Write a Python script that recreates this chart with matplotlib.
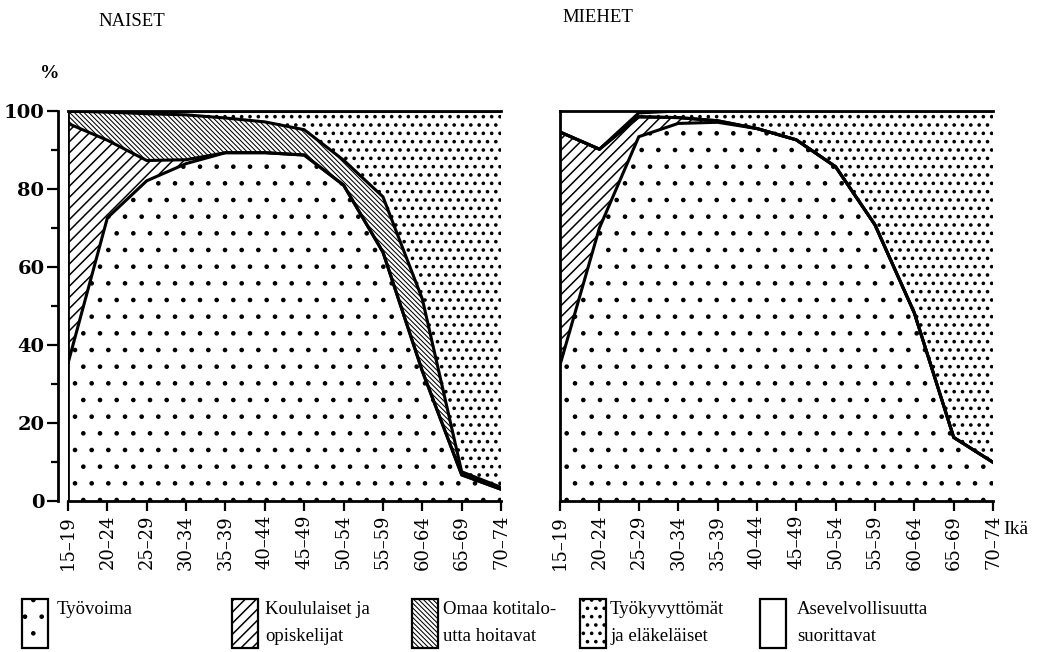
import numpy as np
import matplotlib.pyplot as plt
from matplotlib.patches import Rectangle

plt.rcParams['font.family'] = ['Liberation Serif', 'DejaVu Serif']
plt.rcParams['hatch.color'] = 'black'

ages = ['15–19', '20–24', '25–29', '30–34', '35–39', '40–44',
        '45–49', '50–54', '55–59', '60–64', '65–69', '70–74']

# NAISET (%)
women_labour = [35.3, 72.6, 82.1, 86.5, 89.3, 89.3, 88.7, 81.0, 63.8, 33.3, 6.7, 3.0]
women_students = [61.5, 19.9, 5.2, 1.0, 0, 0, 0, 0, 0, 0, 0, 0]
women_home = [3.2, 7.2, 12.0, 11.5, 8.9, 7.9, 6.5, 6.4, 14.2, 18.5, 0.8, 0.5]
women_disabled = [0, 0.3, 0.7, 1.0, 1.8, 2.8, 4.8, 12.6, 22.0, 48.2, 92.5, 96.5]

# MIEHET (%)
men_labour = [34.9, 70.0, 93.4, 96.8, 97.1, 95.5, 92.6, 85.7, 70.8, 48.2, 16.3, 9.9]
men_students = [59.7, 20.2, 5.1, 1.5, 0.4, 0, 0, 0, 0, 0, 0, 0]
men_home = [0, 0, 0, 0, 0, 0, 0, 0, 0, 0, 0, 0]
men_disabled = [0, 0, 1.0, 1.7, 2.5, 4.5, 7.4, 14.3, 29.2, 51.8, 83.7, 90.1]
men_military = [5.4, 9.8, 0.5, 0, 0, 0, 0, 0, 0, 0, 0, 0]

# hatch, hatch linewidth
styles = [('.', 0.9), ('///', 1.1), ('\\' * 7, 0.75), ('..', 1.4), ('', 1.0)]
legend_labels = ['Työvoima', 'Koululaiset ja\nopiskelijat', 'Omaa kotitalo-\nutta hoitavat',
                 'Työkyvyttömät\nja eläkeläiset', 'Asevelvollisuutta\nsuorittavat']
tick_font = ['DejaVu Serif']


def draw_panel(ax, layers):
    x = np.arange(len(ages))
    bottom = np.zeros(len(ages))
    tops = []
    for vals, (hatch, hlw) in zip(layers, styles):
        top = bottom + np.array(vals)
        with plt.rc_context({'hatch.linewidth': hlw}):
            coll = ax.fill_between(x, bottom, top, facecolor='white', edgecolor='none',
                                   hatch=hatch, linewidth=0)
        if hasattr(coll, 'set_hatch_linewidth'):
            coll.set_hatch_linewidth(hlw)
        tops.append(top)
        bottom = top
    for top in tops[:-1]:
        ax.plot(x, top, color='black', lw=2.2, solid_joinstyle='miter')
    ax.set_xlim(0, len(ages) - 1)
    ax.set_ylim(0, 100)
    ax.set_xticks(x)
    ax.set_xticklabels(ages, rotation=90, fontsize=13, family=tick_font)
    ax.tick_params(axis='x', length=7, width=1.6, direction='out', pad=3)
    ax.spines['right'].set_visible(False)
    for s in ['left', 'bottom', 'top']:
        ax.spines[s].set_linewidth(2.0)


fig = plt.figure(figsize=(10.48, 6.52), dpi=100)
ax1 = fig.add_axes([0.0649, 0.2316, 0.4132, 0.5982])
ax2 = fig.add_axes([0.5344, 0.2316, 0.4132, 0.5982])

draw_panel(ax1, [women_labour, women_students, women_home, women_disabled, [0] * 12])
draw_panel(ax2, [men_labour, men_students, men_home, men_disabled, men_military])

ax1.axvline(0, color='black', lw=2.0)
ax1.spines['left'].set_position(('outward', 7))
ax1.set_yticks([0, 20, 40, 60, 80, 100])
ax1.set_yticks([10, 30, 50, 70, 90], minor=True)
ax1.set_yticklabels(['0', '20', '40', '60', '80', '100'], fontsize=14, fontweight='bold',
                    family=tick_font)
ax1.tick_params(axis='y', which='major', length=8, width=1.6, pad=2)
ax1.tick_params(axis='y', which='minor', length=5, width=1.6)

ax2.set_yticks([])

fig.text(98 / 1048, 1 - 22 / 652, 'NAISET', fontsize=13.5, va='center', ha='left')
fig.text(562 / 1048, 1 - 18 / 652, 'MIEHET', fontsize=13.5, va='center', ha='left')
fig.text(40 / 1048, 1 - 73 / 652, '%', fontsize=14, va='center', ha='left',
         fontweight='bold')
fig.text(1003 / 1048, 1 - 530 / 652, 'Ikä', fontsize=14, va='center', ha='left')

# legend boxes
box_x = [22, 232, 412, 580, 760]
text_x = [57, 265, 443, 610, 797]
for i in range(5):
    hatch, hlw = styles[i]
    with plt.rc_context({'hatch.linewidth': hlw}):
        r = Rectangle((box_x[i] / 1048, 1 - 648 / 652), 26 / 1048, 49 / 652,
                      transform=fig.transFigure, facecolor='white', edgecolor='black',
                      lw=1.6, hatch=hatch)
    if hasattr(r, 'set_hatch_linewidth'):
        r.set_hatch_linewidth(hlw)
    fig.add_artist(r)
    fig.text(text_x[i] / 1048, 1 - 601 / 652, legend_labels[i], fontsize=13.5,
             va='top', ha='left', linespacing=1.8)

fig.savefig('out.png', dpi=100)
